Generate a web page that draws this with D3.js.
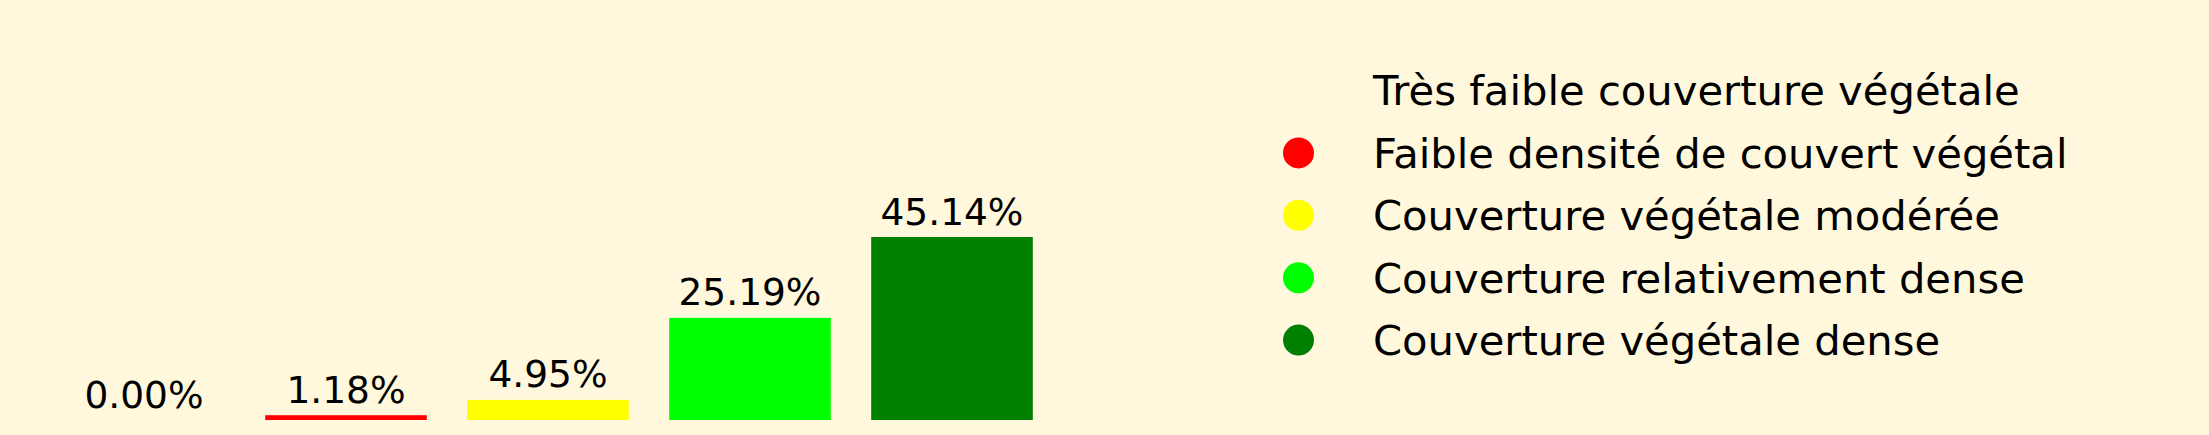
<!DOCTYPE html>
<html>
<head>
<meta charset="utf-8">
<script src="https://cdn.jsdelivr.net/npm/d3@7"></script>
<style>
  html, body { margin: 0; padding: 0; background: #fff8dc; }
  svg { display: block; }
</style>
</head>
<body>
<svg id="chart"></svg>
<script>
// data
const categories = [
  'Très faible couverture végétale',
  'Faible densité de couvert végétal',
  'Couverture végétale modérée',
  'Couverture relativement dense',
  'Couverture végétale dense'
];
const values = [0.00, 1.18, 4.95, 25.19, 45.14];
const colors = ['#fff8dc', '#ff0000', '#ffff00', '#00ff00', '#008000'];

const width = 2209;
const height = 435;
const font = 'DejaVu Sans, sans-serif';

const svg = d3.select('#chart')
  .attr('width', width)
  .attr('height', height);

svg.append('rect')
  .attr('width', width)
  .attr('height', height)
  .attr('fill', '#fff8dc');

// bars
const x = d3.scaleBand()
  .domain(categories)
  .range([43, 1053])
  .paddingInner(0.2)
  .paddingOuter(0.1);

const y = d3.scaleLinear()
  .domain([0, 50])
  .range([420, 217.3]);

const data = categories.map((c, i) => ({cat: c, value: values[i], color: colors[i]}));

svg.append('g').selectAll('rect')
  .data(data)
  .join('rect')
  .attr('x', d => x(d.cat))
  .attr('y', d => y(d.value))
  .attr('width', x.bandwidth())
  .attr('height', d => y(0) - y(d.value))
  .attr('fill', d => d.color);

svg.append('g').selectAll('text')
  .data(data)
  .join('text')
  .attr('x', d => x(d.cat) + x.bandwidth() / 2)
  .attr('y', d => y(d.value) - 12.5)
  .attr('text-anchor', 'middle')
  .attr('font-family', font)
  .attr('font-size', 37.5)
  .attr('fill', '#000')
  .text(d => d.value.toFixed(2) + '%');

// legend
const legend = svg.append('g');
const row = d3.scalePoint()
  .domain(categories)
  .range([90.5, 340.1]);

const item = legend.selectAll('g')
  .data(data)
  .join('g')
  .attr('transform', d => 'translate(0,' + row(d.cat) + ')');

item.append('circle')
  .attr('cx', 1298.5)
  .attr('cy', 0)
  .attr('r', 15.5)
  .attr('fill', d => d.color);

item.append('text')
  .attr('x', 1373)
  .attr('y', 14.8)
  .attr('font-family', font)
  .attr('font-size', 41.7)
  .attr('fill', '#000')
  .text(d => d.cat);
</script>
</body>
</html>
